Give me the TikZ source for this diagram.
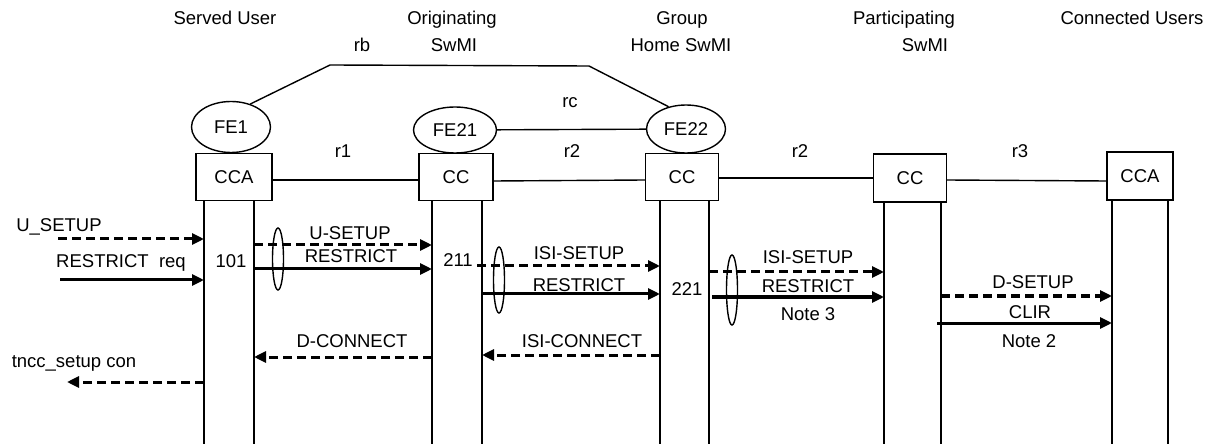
\documentclass[tikz,border=0pt]{standalone}
\usepackage{fontspec}
\setmainfont{Liberation Sans}
\usetikzlibrary{arrows.meta,shapes.geometric}
\begin{document}
\begin{tikzpicture}[x=1pt,y=-1pt,
  every node/.style={font=\fontsize{18.5}{22}\selectfont, inner sep=0pt},
  lbl/.style={anchor=base},
  fe/.style={draw, ellipse, line width=1.4pt, minimum width=80pt, minimum height=48pt},
  box/.style={draw, rectangle, line width=1.4pt, minimum width=74pt, minimum height=47pt},
  frame/.style={line width=1.4pt},
  life/.style={line width=1.4pt},
  dmsg/.style={line width=3pt, dash pattern=on 9pt off 5pt, -{Triangle[length=12pt,width=11pt]}},
  smsg/.style={line width=3pt, -{Triangle[length=12pt,width=11pt]}},
  grp/.style={draw, ellipse, line width=1.4pt, minimum width=11pt},
]
\useasboundingbox (0,0) rectangle (1215,446);

% headers
\node[lbl] (h1) at (225,25) {Served User};
\node[lbl] (h2a) at (452,25) {Originating};
\node[lbl] (h2b) at (454,52) {SwMI};
\node[lbl] (h3a) at (682,25) {Group};
\node[lbl] (h3b) at (681,52) {Home SwMI};
\node[lbl] (h4a) at (904,25) {Participating};
\node[lbl] (h4b) at (925,52) {SwMI};
\node[lbl] (h5) at (1132,25) {Connected Users};

% FEs
\node[fe, minimum width=79pt, minimum height=51pt] (fe1) at (231,127) {FE1};
\node[fe, minimum width=83pt, minimum height=46pt] (fe21) at (455,130) {FE21};
\node[fe, minimum width=79pt, minimum height=48pt] (fe22) at (686,129) {FE22};

% boxes
\node[box, minimum width=76pt] (cca1) at (234,177) {CCA};
\node[box] (cc1) at (456,177) {CC};
\node[box, minimum width=73pt] (cc2) at (682,177) {CC};
\node[box, minimum width=73pt, minimum height=48pt] (cc3) at (910,178) {CC};
\node[box, minimum width=66pt, minimum height=48pt] (cca2) at (1140,176) {CCA};

% rb path
\coordinate (rb1) at (330,65);
\coordinate (rb2) at (589,66);
\draw[frame] (fe1.50) -- (rb1) -- (rb2) -- (fe22.128);
\node[lbl] (rb) at (362,52) {rb};
\draw[frame] (fe21) -- (fe22);
\node[lbl] (rc) at (570,108) {rc};

% box links
\draw[frame] (cca1.east |- 0,180) -- (cc1.west |- 0,180);
\draw[frame] (cc1.east |- 0,181) -- (cc2.west |- 0,180);
\draw[frame] (cc2.east |- 0,178) -- (cc3.west |- 0,178);
\draw[frame] (cc3.east |- 0,180) -- (cca2.west |- 0,181);
\node[lbl] (r1) at (343,158) {r1};
\node[lbl] (r2a) at (572,158) {r2};
\node[lbl] (r2b) at (800,158) {r2};
\node[lbl] (r3) at (1020,158) {r3};

% lifelines
\foreach \n/\x/\b in {l1a/204/cca1, l1b/254/cca1, l2a/432/cc1, l2b/482/cc1, l3a/660/cc2, l3b/709/cc2, l4a/884/cc3, l4b/941/cc3, l5a/1112/cca2, l5b/1168/cca2}{
  \coordinate (\n) at (\x,200);
  \coordinate (\n e) at (\x,444);
  \draw[life] (\n |- \b.south) -- (\n e);
}

% free ends
\coordinate (u0) at (58,239);
\coordinate (r0) at (60,280);
\coordinate (t0) at (67,382);

% messages
\draw[dmsg] (u0) -- (l1a |- u0);
\node[lbl] (m1) at (59,232) {U\_SETUP};
\draw[smsg] (r0) -- (l1a |- r0);
\node[lbl] (m2) at (121,268) {RESTRICT\ \ req};
\node[lbl] (n101) at (231,268) {101};

\draw[dmsg] (l1b |- 0,245) -- (l2a |- 0,245);
\node[lbl] (m3) at (350,240) {U-SETUP};
\draw[smsg] (l1b |- 0,269) -- (l2a |- 0,269);
\node[lbl] (m4) at (351,263) {RESTRICT};
\node[grp, minimum height=62pt] (g1) at (278,259) {};

\node[lbl] (n211) at (458,267) {211};
\draw[dmsg] ([xshift=-5pt]l2b |- 0,266) -- (l3a |- 0,266);
\node[lbl] (m5) at (579,260) {ISI-SETUP};
\draw[smsg] (l2b |- 0,294) -- (l3a |- 0,294);
\node[lbl] (m6) at (579,291) {RESTRICT};
\node[grp, minimum height=66pt] (g2) at (499,280) {};

\node[lbl] (n221) at (687,295) {221};
\draw[dmsg] (l3b |- 0,272) -- (l4a |- 0,272);
\node[lbl] (m7) at (808,264) {ISI-SETUP};
\draw[smsg] ([xshift=3pt]l3b |- 0,297) -- (l4a |- 0,297);
\node[lbl] (m8) at (808,292) {RESTRICT};
\node[lbl] (nt3) at (808,320) {Note 3};
\node[grp, minimum height=70pt] (g3) at (732,290) {};

\draw[dmsg] (l4b |- 0,296) -- (l5a |- 0,296);
\node[lbl] (m9) at (1033,289) {D-SETUP};
\draw[smsg] ([xshift=-4pt]l4b |- 0,323) -- (l5a |- 0,323);
\node[lbl] (m10) at (1030,318) {CLIR};
\node[lbl] (nt2) at (1029,347) {Note 2};

\draw[dmsg] (l2a |- 0,357) -- (l1b |- 0,357);
\node[lbl] (m11) at (352,347) {D-CONNECT};
\draw[dmsg] (l3a |- 0,355) -- (l2b |- 0,355);
\node[lbl] (m12) at (582,347) {ISI-CONNECT};

\draw[dmsg] (l1a |- t0) -- (t0);
\node[lbl] (m13) at (74,367) {tncc\_setup con};
\end{tikzpicture}
\end{document}
